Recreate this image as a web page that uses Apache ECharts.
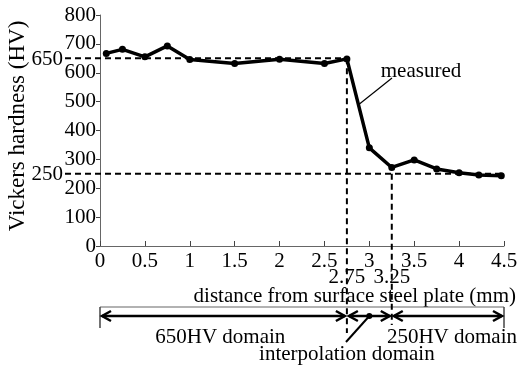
<!DOCTYPE html>
<html><head><meta charset="utf-8">
<script src="https://cdn.jsdelivr.net/npm/echarts@6/dist/echarts.min.js"></script>
<style>html,body{margin:0;padding:0;background:#fff}#c{width:521px;height:365px}</style>
</head><body><div id="c"></div>
<script>
const distance = [0.07,0.25,0.5,0.75,1,1.5,2,2.5,2.75,3,3.25,3.5,3.75,4,4.22,4.47];
const hardness = [667,681,655,693,646,632,647,632,648,340,272,298,267,254,246,243];
const xTicks = [0,0.5,1,1.5,2,2.5,3,3.5,4,4.5];
const yTicks = [0,100,200,300,400,500,600,700,800];
const levels = [650,250];
const bounds = [0,2.75,3.25,4.5];
const domainLabels = ['650HV domain','interpolation domain','250HV domain'];
const xTitle = 'distance from surface steel plate (mm)';
const yTitle = 'Vickers hardness (HV)';
const seriesLabel = 'measured';

const FONT = 'Liberation Serif';
const FS = 21;
const chart = echarts.init(document.getElementById('c'), null, {renderer:'canvas', width:521, height:365});
chart.setOption({
  animation:false,
  backgroundColor:'#fff',
  grid:{left:100,right:17,top:15,bottom:119},
  xAxis:{type:'value',min:0,max:4.5,interval:0.5,
    axisLine:{lineStyle:{color:'#666',width:1}},
    axisTick:{inside:true,length:5,lineStyle:{color:'#444'}},
    splitLine:{show:false},
    axisLabel:{fontFamily:FONT,fontSize:FS,color:'#000',margin:5}},
  yAxis:{type:'value',min:0,max:800,interval:100,
    axisLine:{show:true,lineStyle:{color:'#666',width:1}},
    axisTick:{show:true,length:4,lineStyle:{color:'#444'}},
    splitLine:{show:false},
    axisLabel:{fontFamily:FONT,fontSize:FS,color:'#000',margin:4}},
  series:[{type:'line',data:distance.map((d,i)=>[d,hardness[i]]),
    lineStyle:{color:'#000',width:3.5},itemStyle:{color:'#000'},
    symbol:'circle',symbolSize:7,z:5}]
});

const P = (x,y)=>chart.convertToPixel({gridIndex:0},[x,y]);
const g = [];
const dash = {stroke:'#000',lineWidth:2,lineDash:[6,4]};
const yAxisX = P(0,0)[0], yZero = P(0,0)[1], xEnd = P(4.5,0)[0];
const p650 = P(bounds[1],levels[0]);
const p250 = P(bounds[2],levels[1]);
g.push({type:'line',shape:{x1:65,y1:p650[1],x2:p650[0],y2:p650[1]},style:dash,z:3});
g.push({type:'line',shape:{x1:65,y1:p250[1],x2:xEnd,y2:p250[1]},style:dash,z:3});
g.push({type:'line',shape:{x1:p650[0],y1:p650[1],x2:p650[0],y2:333},style:dash,z:3});
g.push({type:'line',shape:{x1:p250[0],y1:p250[1],x2:p250[0],y2:325},style:dash,z:3});
levels.forEach(v=>{
  const p = P(0,v);
  g.push({type:'text',style:{text:String(v),x:63,y:p[1]+1,align:'right',verticalAlign:'middle',font:FS+'px '+FONT,fill:'#000'}});
});
[bounds[1],bounds[2]].forEach(v=>{
  const p = P(v,0);
  g.push({type:'text',style:{text:String(v),x:p[0],y:p[1]+31,align:'center',verticalAlign:'middle',font:FS+'px '+FONT,fill:'#000'}});
});
g.push({type:'text',style:{text:xTitle,x:516,y:296,align:'right',verticalAlign:'middle',font:FS+'px '+FONT,fill:'#000'}});
g.push({type:'text',rotation:Math.PI/2,x:18,y:126,style:{text:yTitle,x:0,y:0,align:'center',verticalAlign:'middle',font:'23px '+FONT,fill:'#000'}});
const yb = 307, ya = 316;
g.push({type:'line',shape:{x1:yAxisX,y1:yb,x2:xEnd,y2:yb},style:{stroke:'#666',lineWidth:1.2}});
g.push({type:'line',shape:{x1:yAxisX,y1:yb,x2:yAxisX,y2:328},style:{stroke:'#444',lineWidth:1.5}});
g.push({type:'line',shape:{x1:xEnd,y1:yb,x2:xEnd,y2:328},style:{stroke:'#444',lineWidth:1.5}});
for(let i=0;i<bounds.length-1;i++){
  const a = P(bounds[i],0)[0]+2, b = P(bounds[i+1],0)[0]-2;
  const st = {stroke:'#000',lineWidth:2.5,fill:null};
  g.push({type:'line',shape:{x1:a,y1:ya,x2:b,y2:ya},style:st});
  g.push({type:'polyline',shape:{points:[[a+9,ya-5],[a,ya],[a+9,ya+5]]},style:st});
  g.push({type:'polyline',shape:{points:[[b-9,ya-5],[b,ya],[b-9,ya+5]]},style:st});
}
const mid0 = P(1.34,0)[0], mid2 = P(3.92,0)[0];
g.push({type:'text',style:{text:domainLabels[0],x:mid0,y:337,align:'center',verticalAlign:'middle',font:FS+'px '+FONT,fill:'#000'}});
g.push({type:'text',style:{text:domainLabels[2],x:mid2,y:337,align:'center',verticalAlign:'middle',font:FS+'px '+FONT,fill:'#000'}});
g.push({type:'text',style:{text:domainLabels[1],x:P(2.75,0)[0],y:354,align:'center',verticalAlign:'middle',font:FS+'px '+FONT,fill:'#000'}});
const dotX = P(3.0,0)[0];
g.push({type:'line',shape:{x1:dotX,y1:ya,x2:346,y2:342},style:{stroke:'#000',lineWidth:2}});
g.push({type:'circle',shape:{cx:dotX,cy:ya,r:3},style:{fill:'#000'}});
const pm = P(2.89,500);
g.push({type:'line',shape:{x1:pm[0],y1:104,x2:392,y2:78},style:{stroke:'#000',lineWidth:1.2}});
g.push({type:'text',style:{text:seriesLabel,x:421,y:71,align:'center',verticalAlign:'middle',font:FS+'px '+FONT,fill:'#000'}});
chart.setOption({graphic:{elements:g}});
</script></body></html>
